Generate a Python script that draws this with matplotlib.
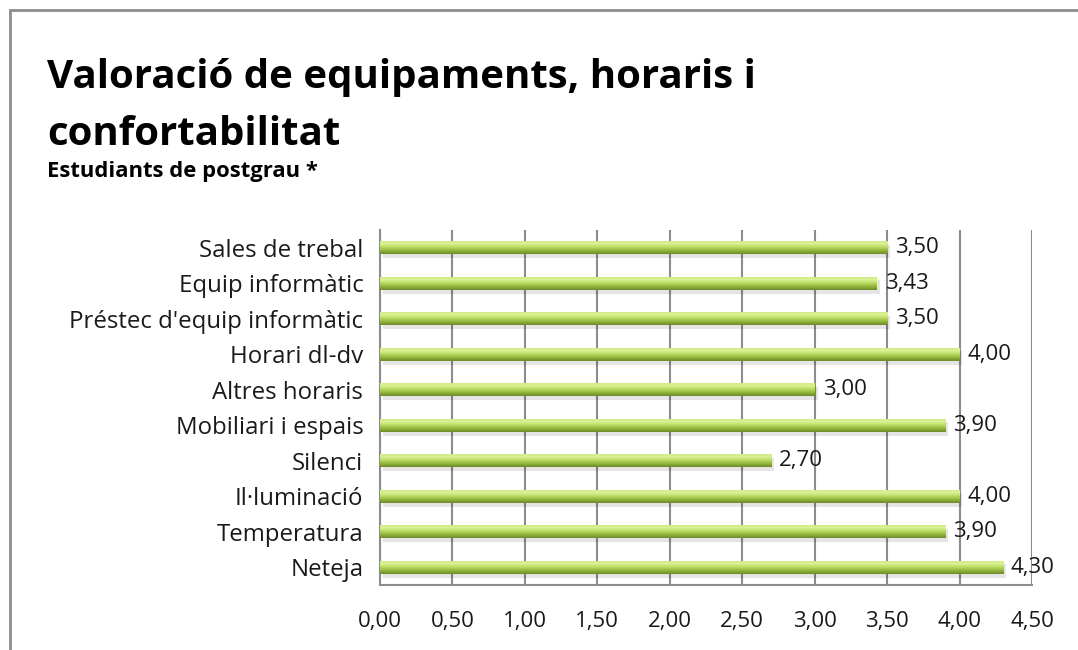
import numpy as np
import matplotlib.pyplot as plt
from matplotlib.patches import Rectangle
from matplotlib.colors import LinearSegmentedColormap

# data (bottom to top as drawn)
categories = ['Neteja', 'Temperatura', 'Il·luminació', 'Silenci', 'Mobiliari i espais',
              'Altres horaris', 'Horari dl-dv', "Préstec d'equip informàtic",
              'Equip informàtic', 'Sales de trebal']
values = [4.30, 3.90, 4.00, 2.70, 3.90, 3.00, 4.00, 3.50, 3.43, 3.50]
x_ticks = [0, 0.5, 1, 1.5, 2, 2.5, 3, 3.5, 4, 4.5]

plt.rcParams['font.family'] = ['Open Sans', 'DejaVu Sans']

fig = plt.figure(figsize=(10.78, 6.5), dpi=100)
ax = fig.add_axes([380 / 1078, 1 - 585 / 650, 652 / 1078, 355 / 650])

# outer frame (chart area border)
fig.patches.append(Rectangle((10 / 1078, -0.1), 1.2, 1 - 10 / 650 + 0.1,
                             transform=fig.transFigure, fill=False,
                             edgecolor='#8c8c8c', lw=2))

ypos = np.arange(len(categories))
h = 0.38
green = LinearSegmentedColormap.from_list(
    'g', ['#6c8a28', '#93b63d', '#b9db62', '#dcf298', '#cbe882'])
grad = np.linspace(0, 1, 64).reshape(-1, 1)

# shadows
ax.barh(ypos - 0.1, values, height=h, left=0.02, color='#000000', alpha=0.10,
        zorder=2, linewidth=0)
bars = ax.barh(ypos, values, height=h, color='#a8cc55', zorder=3, linewidth=0)
for b in bars:
    x0, y0 = b.get_x(), b.get_y()
    im = ax.imshow(grad, cmap=green, aspect='auto', origin='lower',
                   extent=[x0, x0 + b.get_width(), y0, y0 + b.get_height()],
                   zorder=4, interpolation='bicubic')
    im.set_clip_path(b)

for y, v in zip(ypos, values):
    ax.text(v + 0.055, y, f'{v:.2f}'.replace('.', ','), va='center', ha='left',
            fontsize=16, color='#1a1a1a', zorder=5)

ax.set_xlim(0, 4.5)
ax.set_ylim(-0.5, 9.5)
ax.set_xticks(x_ticks)
ax.set_xticklabels([f'{t:.2f}'.replace('.', ',') for t in x_ticks], fontsize=16)
ax.set_yticks(ypos)
ax.set_yticklabels(categories, fontsize=17.3)
ax.tick_params(axis='both', colors='#1a1a1a', length=0)
ax.tick_params(axis='y', pad=12)
ax.tick_params(axis='x', pad=19)
ax.xaxis.grid(True, color='#8c8c8c', lw=1.5)
ax.set_axisbelow(True)
for s in ['top', 'right']:
    ax.spines[s].set_visible(False)
for s in ['left', 'bottom']:
    ax.spines[s].set_color('#8c8c8c')
    ax.spines[s].set_linewidth(1.5)

fig.text(47 / 1078, 1 - 88 / 650, 'Valoració de equipaments, horaris i',
         fontsize=29, fontweight='bold', va='baseline')
fig.text(47 / 1078, 1 - 145 / 650, 'confortabilitat',
         fontsize=29, fontweight='bold', va='baseline')
fig.text(47 / 1078, 1 - 177 / 650, 'Estudiants de postgrau *',
         fontsize=15.8, fontweight='bold', va='baseline')

fig.savefig('out.png', dpi=100)
